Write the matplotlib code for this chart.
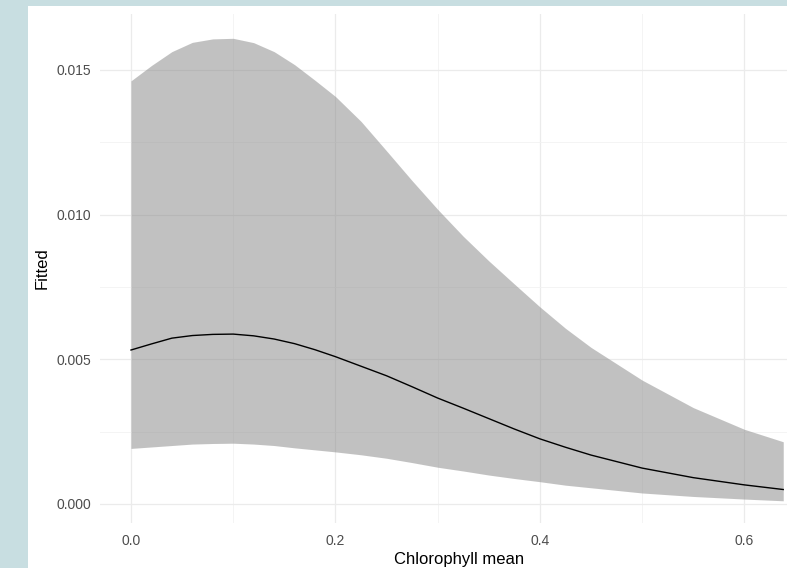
import numpy as np
import matplotlib
matplotlib.use('Agg')
import matplotlib.pyplot as plt
from matplotlib.patches import Rectangle
from matplotlib.ticker import MultipleLocator

# values
chl = [0.0, 0.02, 0.04, 0.06, 0.08, 0.10, 0.12, 0.14, 0.16, 0.18, 0.20, 0.225,
       0.25, 0.275, 0.30, 0.325, 0.35, 0.375, 0.40, 0.425, 0.45, 0.50, 0.55, 0.60, 0.638]
fitted = [0.00532, 0.00553, 0.00573, 0.00582, 0.00586, 0.00587, 0.00581, 0.00570, 0.00554,
          0.00533, 0.00509, 0.00476, 0.00443, 0.00405, 0.00366, 0.00331, 0.00295, 0.00259,
          0.00225, 0.00196, 0.00169, 0.00124, 0.00091, 0.00066, 0.00050]
upper = [0.01462, 0.01515, 0.01563, 0.01595, 0.01607, 0.01609, 0.01594, 0.01563, 0.01518,
         0.01464, 0.01408, 0.01322, 0.01220, 0.01117, 0.01018, 0.00925, 0.00840, 0.00760,
         0.00681, 0.00607, 0.00541, 0.00428, 0.00333, 0.00258, 0.00215]
lower = [0.00192, 0.00197, 0.00202, 0.00207, 0.00209, 0.00210, 0.00207, 0.00202, 0.00194,
         0.00187, 0.00180, 0.00170, 0.00158, 0.00143, 0.00127, 0.00114, 0.00100, 0.00088,
         0.00077, 0.00065, 0.00056, 0.00038, 0.00026, 0.00017, 0.00011]

xticks = [0.0, 0.2, 0.4, 0.6]
xticklabels = ['0.0', '0.2', '0.4', '0.6']
yticks = [0.000, 0.005, 0.010, 0.015]
yticklabels = ['0.000', '0.005', '0.010', '0.015']

plt.rcParams['font.family'] = ['Liberation Sans', 'DejaVu Sans']

W, H = 787, 568
fig = plt.figure(figsize=(W / 100, H / 100), dpi=100, facecolor='#c8dee1')
fig.patches.append(Rectangle((28 / W, 0), 1 - 28 / W, 1 - 6 / H, transform=fig.transFigure,
                             facecolor='white', edgecolor='none', zorder=-10))

# panel runs past the right edge of the picture
left, right, top, bottom = 100, 818, 14, 523
ax = fig.add_axes([left / W, 1 - bottom / H, (right - left) / W, (bottom - top) / H])
ax.set_facecolor('none')
ax.set_zorder(5)

ax.fill_between(chl, lower, upper, color='#858585', alpha=0.5, linewidth=0, zorder=2)
ax.plot(chl, fitted, color='black', linewidth=1.0, zorder=3)

ax.set_xlim(-0.0303, 0.672)
ax.set_ylim(-0.000657, 0.01693)
ax.set_xticks(xticks)
ax.set_xticklabels(xticklabels)
ax.set_yticks(yticks)
ax.set_yticklabels(yticklabels)
ax.xaxis.set_minor_locator(MultipleLocator(0.1))
ax.yaxis.set_minor_locator(MultipleLocator(0.0025))

ax.grid(True, which='major', color='#ebebeb', linewidth=0.9, zorder=1)
ax.grid(True, which='minor', color='#f2f2f2', linewidth=0.6, zorder=1)
ax.set_axisbelow(True)
for s in ax.spines.values():
    s.set_visible(False)
ax.tick_params(which='both', length=0)
ax.tick_params(axis='y', pad=6.5, labelsize=10, labelcolor='#4d4d4d')
ax.tick_params(axis='x', pad=8, labelsize=10, labelcolor='#4d4d4d')

ax.set_xlabel('Chlorophyll mean', fontsize=12, labelpad=3)
ax.set_ylabel('Fitted', fontsize=12, labelpad=5)

fig.savefig('out.png', dpi=100, facecolor=fig.get_facecolor())
